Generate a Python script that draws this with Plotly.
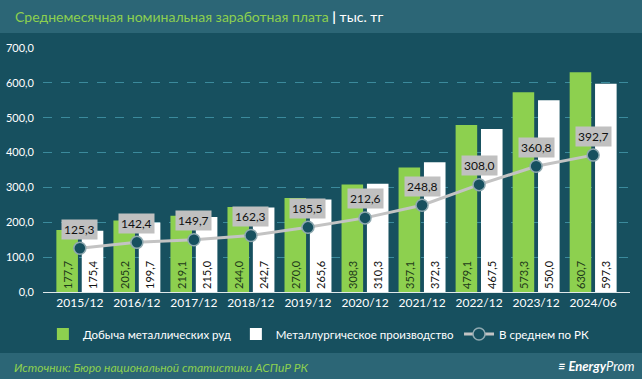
import plotly.graph_objects as go

categories = ["2015/12", "2016/12", "2017/12", "2018/12", "2019/12",
              "2020/12", "2021/12", "2022/12", "2023/12", "2024/06"]
mining = [177.7, 205.2, 219.1, 244.0, 270.0, 308.3, 357.1, 479.1, 573.3, 630.7]
metallurgy = [175.4, 199.7, 215.0, 242.7, 265.6, 310.3, 372.3, 467.5, 550.0, 597.3]
average = [125.3, 142.4, 149.7, 162.3, 185.5, 212.6, 248.8, 308.0, 360.8, 392.7]
y_ticks = [0, 100, 200, 300, 400, 500, 600, 700]


def fmt(v):
    return f"{v:.1f}".replace(".", ",")


FONT = "Lato"
BG = "#17505f"
BAND = "#2c6676"
GREEN = "#8dd04f"

fig = go.Figure()

fig.add_trace(go.Bar(
    name="Добыча металлических руд", x=categories, y=mining,
    marker=dict(color=GREEN, line=dict(width=0)),
    text=[fmt(v) for v in mining], textposition="inside",
    insidetextanchor="start", textangle=-90, constraintext="none",
    textfont=dict(color="#1d3a1a", size=11, family=FONT),
))
fig.add_trace(go.Bar(
    name="Металлургическое производство", x=categories, y=metallurgy,
    marker=dict(color="#ffffff", line=dict(width=0)),
    text=[fmt(v) for v in metallurgy], textposition="inside",
    insidetextanchor="start", textangle=-90, constraintext="none",
    textfont=dict(color="#111111", size=11, family=FONT),
))
fig.add_trace(go.Scatter(
    name="В среднем по РК", x=categories, y=average, mode="lines+markers",
    line=dict(color="#c3c3c3", width=3),
    marker=dict(size=12, color=BG, line=dict(color="#8fa9b0", width=1.5)),
))

annotations = []
for c, v in zip(categories, average):
    annotations.append(dict(
        x=c, y=v, xref="x", yref="y", text=fmt(v), showarrow=False,
        yshift=19, bgcolor="#c0c0c0", borderpad=2,
        font=dict(color="#111111", size=12, family=FONT),
    ))

annotations.append(dict(
    xref="paper", yref="paper", x=(12 - 43) / 587, y=(292 - 367) / 244,
    xanchor="left", yanchor="middle",
    text="<i>Источник: Бюро национальной статистики АСПиР РК</i>", showarrow=False,
    font=dict(color=GREEN, size=12, family=FONT),
))
annotations.append(dict(
    xref="paper", yref="paper", x=(636 - 43) / 587, y=(292 - 366) / 244,
    xanchor="right", yanchor="middle",
    text="<b><i>≡ Energy</i></b><i>Prom</i>", showarrow=False,
    font=dict(color="#ffffff", size=13, family=FONT),
))

shapes = [
    dict(type="rect", xref="paper", yref="paper", x0=-0.1, x1=1.1,
         y0=(292 - 33) / 244, y1=1.25, fillcolor=BAND, line=dict(width=0), layer="below"),
    dict(type="rect", xref="paper", yref="paper", x0=-0.1, x1=1.1,
         y0=-0.4, y1=(292 - 353) / 244, fillcolor=BAND, line=dict(width=0), layer="below"),
]

fig.update_layout(
    width=642, height=379,
    margin=dict(l=43, r=12, t=48, b=87, autoexpand=False),
    paper_bgcolor=BG, plot_bgcolor=BG,
    font=dict(family=FONT, color="#ffffff", size=11),
    barmode="group", bargap=0.11, bargroupgap=0.15,
    title=dict(
        text=("<span style='color:" + GREEN + "'>Среднемесячная номинальная заработная плата</span>"
              " <span style='color:#ffffff'><b>|</b> тыс. тг</span>"),
        x=15 / 642, xanchor="left", y=1 - 17 / 379, yanchor="middle",
        font=dict(size=14, family=FONT),
    ),
    xaxis=dict(
        showgrid=False, showline=True, linecolor="#dfe8ea", linewidth=1,
        tickfont=dict(color="#ffffff", size=12, family=FONT), ticks="",
    ),
    yaxis=dict(
        range=[0, 700], tickvals=y_ticks, ticktext=[fmt(v) for v in y_ticks],
        showgrid=True, gridcolor="#3b8a9c", griddash="dash", gridwidth=1,
        zeroline=False, tickfont=dict(color="#ffffff", size=11, family=FONT),
        ticks="", ticklabelstandoff=8,
    ),
    legend=dict(
        orientation="h", x=0.47, xanchor="center", y=(292 - 334) / 244, yanchor="middle",
        font=dict(color="#ffffff", size=11.5, family=FONT), bgcolor="rgba(0,0,0,0)",
        traceorder="normal",
    ),
    annotations=annotations, shapes=shapes,
)

fig.write_html("out.html", config={"displayModeBar": False},
               post_script="document.body.style.margin='0';document.body.style.overflow='hidden';")
